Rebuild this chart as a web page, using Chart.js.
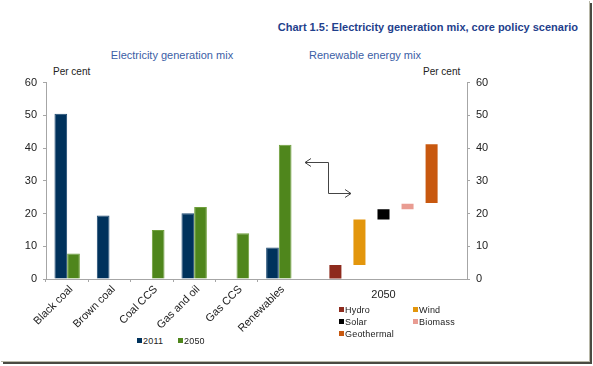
<!DOCTYPE html>
<html>
<head>
<meta charset="utf-8">
<script src="https://cdn.jsdelivr.net/npm/chart.js@4.4.1/dist/chart.umd.min.js"></script>
<style>
  body { margin: 0; background: #fff; font-family: "Liberation Sans", Arial, sans-serif; }
  #frame { position: absolute; left: 0; top: 0; width: 589px; height: 361px; background: #fff;
           box-shadow: 1px 1px 0 #b8b8a8, 3px 3px 0 #4a4a42; overflow: hidden; }
  .txt { position: absolute; white-space: nowrap; }
  #title { right: 11px; top: 21px; font-weight: bold; font-size: 11px; color: #1f3f8c; }
  .sub { top: 49px; width: 200px; text-align: center; font-size: 11px; color: #3b5ea6; }
  .unit { top: 66px; font-size: 10px; color: #222; }
  #leftWrap { position: absolute; left: 0; top: 70px; width: 300px; height: 264px; }
  #rightWrap { position: absolute; left: 300px; top: 70px; width: 200px; height: 264px; }
  .legend { position: absolute; font-size: 9px; letter-spacing: 0.2px; color: #222; }
  .legend div { position: absolute; white-space: nowrap; line-height: 11px; }
  .legend span { display: inline-block; width: 5px; height: 5px; margin-right: 1px; vertical-align: 1px; }
  #mixLegend { left: 137px; top: 336px; }
  #renewLegend { left: 339px; top: 305px; }
</style>
</head>
<body>
<div id="frame">
  <div class="txt" id="title">Chart 1.5: Electricity generation mix, core policy scenario</div>
  <div class="txt sub" style="left:72px">Electricity generation mix</div>
  <div class="txt sub" style="left:265px">Renewable energy mix</div>
  <div class="txt unit" style="left:53px">Per cent</div>
  <div class="txt unit" style="left:423px">Per cent</div>
  <div id="leftWrap"><canvas id="mixChart"></canvas></div>
  <div id="rightWrap"><canvas id="renewChart"></canvas></div>
  <div class="legend" id="mixLegend"></div>
  <div class="legend" id="renewLegend"></div>
</div>
<script>
// electricity generation mix, per cent
const categories = [ 'Black coal', 'Brown coal', 'Coal CCS', 'Gas and oil', 'Gas CCS', 'Renewables' ];
const share2011 = [ 50.5, 19.4, null, 20.1, null, 9.6 ];
const share2050 = [ 7.8, null, 15.0, 22.0, 14.0, 41.0 ];

// renewable energy mix in 2050, floating bars (bottom, top)
const renewYear = [ '2050' ];
const renewNames = [ 'Hydro', 'Wind', 'Solar', 'Biomass', 'Geothermal' ];
const renewLow = [ 0, 4.3, 18.2, 21.3, 23.2 ];
const renewHigh = [ 4.3, 18.2, 21.3, 23.0, 41.2 ];
const renewColors = [ '#8e2b1d', '#e3960c', '#000000', '#e99c92', '#c8580f' ];

const yTicks = [ 0, 10, 20, 30, 40, 50, 60 ];

Chart.defaults.font.family = '"Liberation Sans", Arial, sans-serif';
Chart.defaults.font.size = 11;
Chart.defaults.color = '#222';
Chart.defaults.animation = false;

const axisGrey = '#a6a6a6';

const yAxis = ( pos ) => ( {
  position: pos,
  min: 0,
  max: 60,
  afterBuildTicks: ( s ) => { s.ticks = yTicks.map( v => ( { value: v } ) ); },
  border: { display: true, color: axisGrey },
  grid: { drawOnChartArea: false, color: axisGrey, tickLength: 3 },
  ticks: { padding: 6, font: { size: 11 } },
  afterFit: ( s ) => { s.width = pos === 'left' ? 46 : 33; }
} );

const mixChart = new Chart( document.getElementById( 'mixChart' ), {
  type: 'bar',
  data: {
    labels: categories,
    datasets: [
      { label: '2011', data: share2011, backgroundColor: '#00325c', borderColor: '#1d4a72', borderWidth: 1 },
      { label: '2050', data: share2050, backgroundColor: '#4f861c', borderColor: '#6f9f3c', borderWidth: 1 }
    ]
  },
  options: {
    responsive: true,
    maintainAspectRatio: false,
    layout: { padding: { top: 9, right: 0, left: 0, bottom: 0 } },
    datasets: { bar: { categoryPercentage: 0.6, barPercentage: 1.0 } },
    scales: {
      x: {
        border: { display: true, color: axisGrey },
        grid: { drawOnChartArea: false, color: axisGrey, tickLength: 3, offset: true },
        ticks: { minRotation: 45, maxRotation: 45, padding: 1, labelOffset: 4, font: { size: 11 } },
        afterFit: ( s ) => { s.height = 55; }
      },
      y: yAxis( 'left' )
    },
    plugins: {
      legend: { display: false },
      tooltip: { enabled: false }
    }
  }
} );

// elbow arrow between the two panels
const arrowPlugin = {
  id: 'elbowArrow',
  afterDatasetsDraw( chart ) {
    const { ctx, chartArea: a, scales: { y } } = chart;
    const x0 = a.left + 5, xm = a.left + 28, x1 = a.left + 51;
    const y0 = Math.round( y.getPixelForValue( 35.8 ) ) + 0.5;
    const y1 = Math.round( y.getPixelForValue( 26.4 ) ) + 0.5;
    ctx.save();
    ctx.strokeStyle = '#444';
    ctx.lineWidth = 1;
    ctx.beginPath();
    ctx.moveTo( x0, y0 ); ctx.lineTo( xm + 0.5, y0 ); ctx.lineTo( xm + 0.5, y1 ); ctx.lineTo( x1, y1 );
    ctx.moveTo( x0 + 6, y0 - 4 ); ctx.lineTo( x0, y0 ); ctx.lineTo( x0 + 6, y0 + 4 );
    ctx.moveTo( x1 - 6, y1 - 4 ); ctx.lineTo( x1, y1 ); ctx.lineTo( x1 - 6, y1 + 4 );
    ctx.stroke();
    ctx.restore();
  }
};

const renewChart = new Chart( document.getElementById( 'renewChart' ), {
  type: 'bar',
  data: {
    labels: renewYear,
    datasets: renewNames.map( ( name, i ) => ( {
      label: name,
      data: [ [ renewLow[ i ], renewHigh[ i ] ] ],
      backgroundColor: renewColors[ i ],
      borderSkipped: false
    } ) )
  },
  options: {
    responsive: true,
    maintainAspectRatio: false,
    layout: { padding: { top: 9, right: 0, left: 0, bottom: 0 } },
    datasets: { bar: { categoryPercentage: 0.72, barPercentage: 0.5 } },
    scales: {
      x: {
        border: { display: true, color: axisGrey },
        grid: { display: false },
        ticks: { padding: 1, font: { size: 11 } },
        afterFit: ( s ) => { s.height = 55; }
      },
      y: yAxis( 'right' )
    },
    plugins: {
      legend: { display: false },
      tooltip: { enabled: false }
    }
  },
  plugins: [ arrowPlugin ]
} );

// html legends built from the chart datasets
function buildLegend( chart, boxId, colStep, perRow ) {
  const box = document.getElementById( boxId );
  chart.data.datasets.forEach( ( ds, i ) => {
    const d = document.createElement( 'div' );
    d.style.left = ( i % perRow ) * colStep + 'px';
    d.style.top = Math.floor( i / perRow ) * 12 + 'px';
    d.innerHTML = '<span style="background:' + ds.backgroundColor + '"></span>' + ds.label;
    box.appendChild( d );
  } );
}
buildLegend( mixChart, 'mixLegend', 41, 2 );
buildLegend( renewChart, 'renewLegend', 74, 2 );
</script>
</body>
</html>
